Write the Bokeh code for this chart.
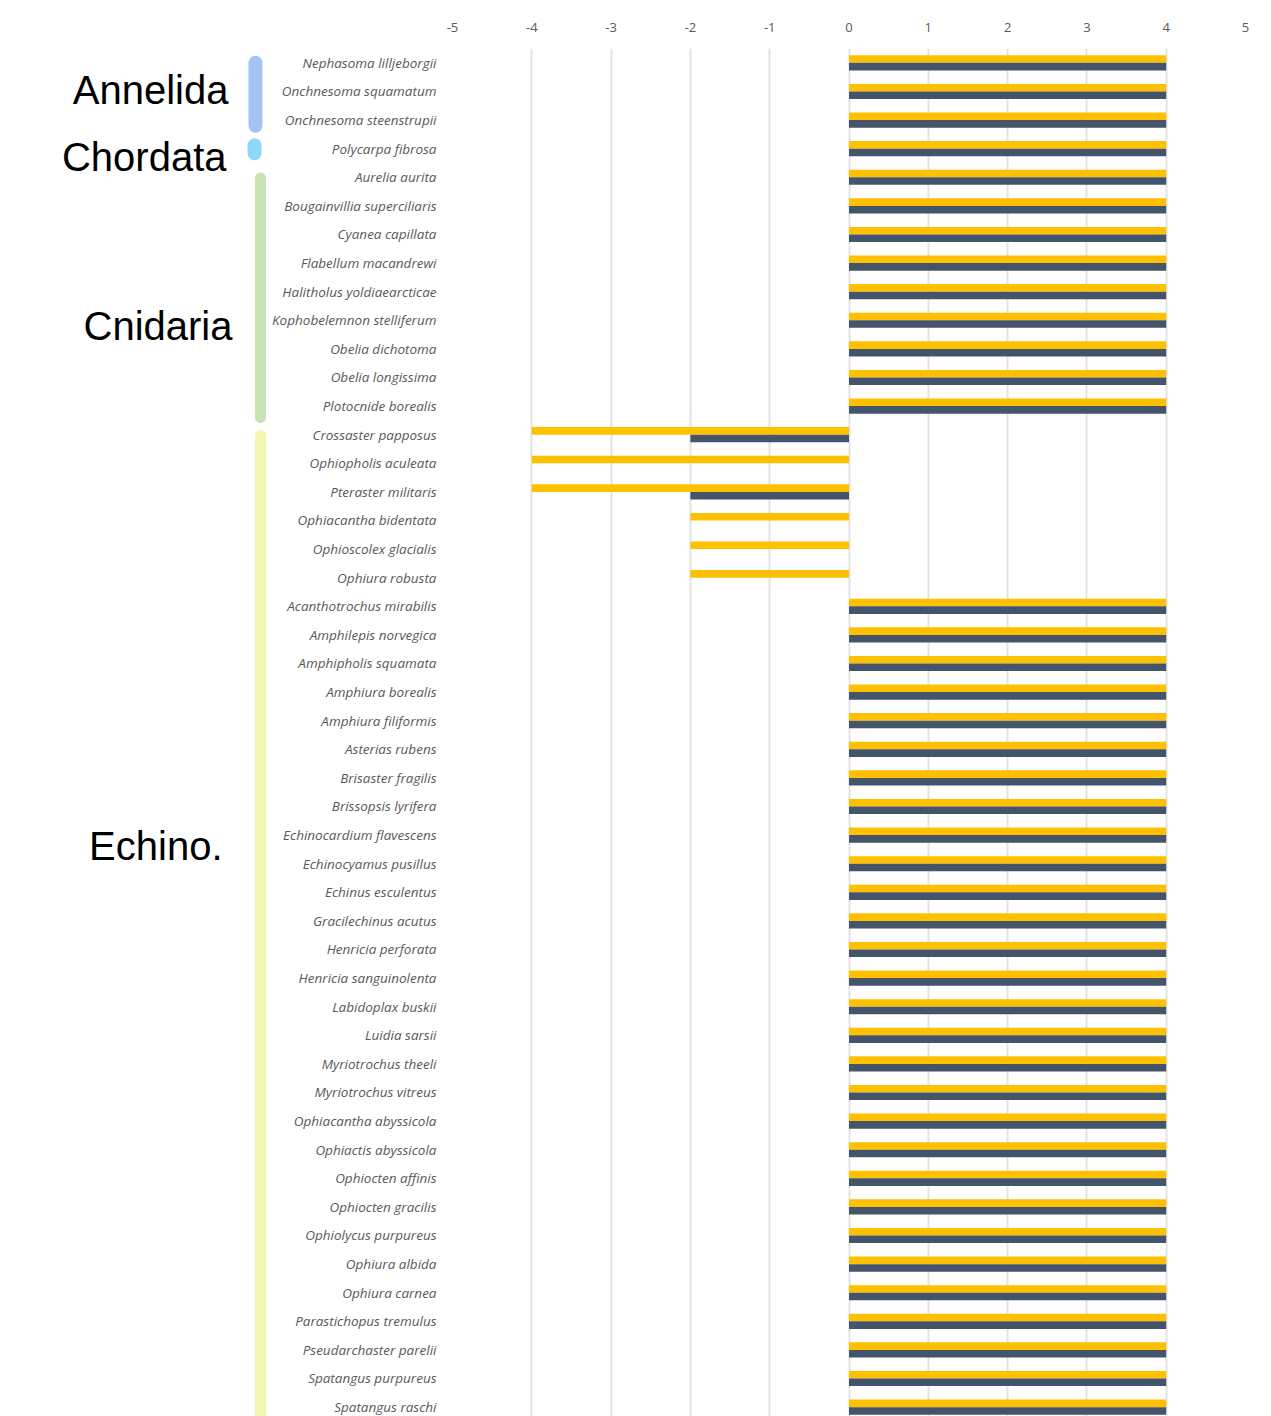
from bokeh.plotting import figure
from bokeh.layouts import row
from bokeh.models import Range1d, FixedTicker, ColumnDataSource
from bokeh.core.properties import value
from bokeh.embed import file_html
from bokeh.resources import INLINE

species = [
    "Nephasoma lilljeborgii", "Onchnesoma squamatum", "Onchnesoma steenstrupii",
    "Polycarpa fibrosa",
    "Aurelia aurita", "Bougainvillia superciliaris", "Cyanea capillata",
    "Flabellum macandrewi", "Halitholus yoldiaearcticae", "Kophobelemnon stelliferum",
    "Obelia dichotoma", "Obelia longissima", "Plotocnide borealis",
    "Crossaster papposus", "Ophiopholis aculeata", "Pteraster militaris",
    "Ophiacantha bidentata", "Ophioscolex glacialis", "Ophiura robusta",
    "Acanthotrochus mirabilis", "Amphilepis norvegica", "Amphipholis squamata",
    "Amphiura borealis", "Amphiura filiformis", "Asterias rubens",
    "Brisaster fragilis", "Brissopsis lyrifera", "Echinocardium flavescens",
    "Echinocyamus pusillus", "Echinus esculentus", "Gracilechinus acutus",
    "Henricia perforata", "Henricia sanguinolenta", "Labidoplax buskii",
    "Luidia sarsii", "Myriotrochus theeli", "Myriotrochus vitreus",
    "Ophiacantha abyssicola", "Ophiactis abyssicola", "Ophiocten affinis",
    "Ophiocten gracilis", "Ophiolycus purpureus", "Ophiura albida",
    "Ophiura carnea", "Parastichopus tremulus", "Pseudarchaster parelii",
    "Spatangus purpureus", "Spatangus raschi",
]

series_yellow = [4, 4, 4, 4, 4, 4, 4, 4, 4, 4, 4, 4, 4,
                 -4, -4, -4, -2, -2, -2] + [4] * 29
series_dark = [4, 4, 4, 4, 4, 4, 4, 4, 4, 4, 4, 4, 4,
               -2, 0, -2, 0, 0, 0] + [4] * 29

groups = ["Annelida", "Chordata", "Cnidaria", "Echino."]
group_counts = [3, 1, 9, 35]
group_colors = ["#A4C2F4", "#8ED8F8", "#C9E4B4", "#F2F5B0"]

x_ticks = [-5, -4, -3, -2, -1, 0, 1, 2, 3, 4, 5]
x_tick_labels = ["-5", "-4", "-3", "-2", "-1", "0", "1", "2", "3", "4", "5"]

# layout (positions only)
group_label_row = [0.95, 3.3, 9.2, 27.4]
group_label_x = [228, 226, 232, 222]
group_bar_x = [255, 254, 260, 260]
group_bar_w = [14, 14, 11, 11]
group_bar_start_pad = [0.0, -0.12, 0.03, 0.03]
group_bar_end_pad = [0.2, 0.16, 0.4, 0.6]

n = len(species)
idx = list(range(n))
H = 1416
TOP = 48
yr = Range1d(start=47.33, end=-0.5)

p = figure(width=1000, height=H, output_backend="svg", toolbar_location=None,
           x_range=Range1d(-5, 5), y_range=yr, x_axis_location="above",
           min_border_left=184, min_border_right=23, min_border_top=TOP,
           min_border_bottom=0)
p.outline_line_color = None
p.background_fill_color = "white"

src = ColumnDataSource(dict(y=idx, ya=[i - 0.13 for i in idx], yb=[i + 0.135 for i in idx],
                            a=series_yellow, b=series_dark))
p.hbar(y="ya", left=0, right="a", height=0.265, source=src,
       fill_color="#FFC000", line_color=None)
p.hbar(y="yb", left=0, right="b", height=0.265, source=src,
       fill_color="#44546A", line_color=None)

p.xaxis.ticker = FixedTicker(ticks=x_ticks)
p.xaxis.major_label_overrides = {t: l for t, l in zip(x_ticks, x_tick_labels)}
p.xaxis.axis_line_color = None
p.xaxis.major_tick_line_color = None
p.xaxis.minor_tick_line_color = None
p.xaxis.major_label_text_font = "Open Sans"
p.xaxis.major_label_text_font_size = "13px"
p.xaxis.major_label_text_color = "#595959"
p.xaxis.major_label_standoff = 11

p.yaxis.ticker = FixedTicker(ticks=idx)
p.yaxis.major_label_overrides = {i: s for i, s in enumerate(species)}
p.yaxis.axis_line_color = None
p.yaxis.major_tick_line_color = None
p.yaxis.minor_tick_line_color = None
p.yaxis.major_label_text_font = "Open Sans"
p.yaxis.major_label_text_font_style = "italic"
p.yaxis.major_label_text_font_size = "13.5px"
p.yaxis.major_label_text_color = "#595959"
p.yaxis.major_label_standoff = 10

p.xgrid.ticker = FixedTicker(ticks=x_ticks)
p.xgrid.grid_line_color = "#E3E3E3"
p.xgrid.grid_line_width = 2
p.ygrid.grid_line_color = None

# left group panel
g = figure(width=268, height=H, output_backend="svg", toolbar_location=None,
           x_range=Range1d(0, 268), y_range=yr,
           x_axis_location=None, y_axis_location=None,
           min_border_left=0, min_border_right=0, min_border_top=TOP,
           min_border_bottom=0)
g.outline_line_color = None
g.grid.grid_line_color = None

starts = []
ends = []
c = 0
for k, cnt in enumerate(group_counts):
    starts.append(c + group_bar_start_pad[k])
    ends.append(c + cnt - 1 + group_bar_end_pad[k])
    c += cnt

for i in range(len(groups)):
    g.segment(x0=[group_bar_x[i]], x1=[group_bar_x[i]], y0=[starts[i]], y1=[ends[i]],
              line_color=group_colors[i], line_width=group_bar_w[i], line_cap="round")

g.text(x=group_label_x, y=group_label_row, text=groups,
       text_font=value("Liberation Sans"), text_font_size="40px",
       text_align="right", text_baseline="middle", text_color="black")

layout = row(g, p)
open("out.html", "w").write(file_html(layout, INLINE))
